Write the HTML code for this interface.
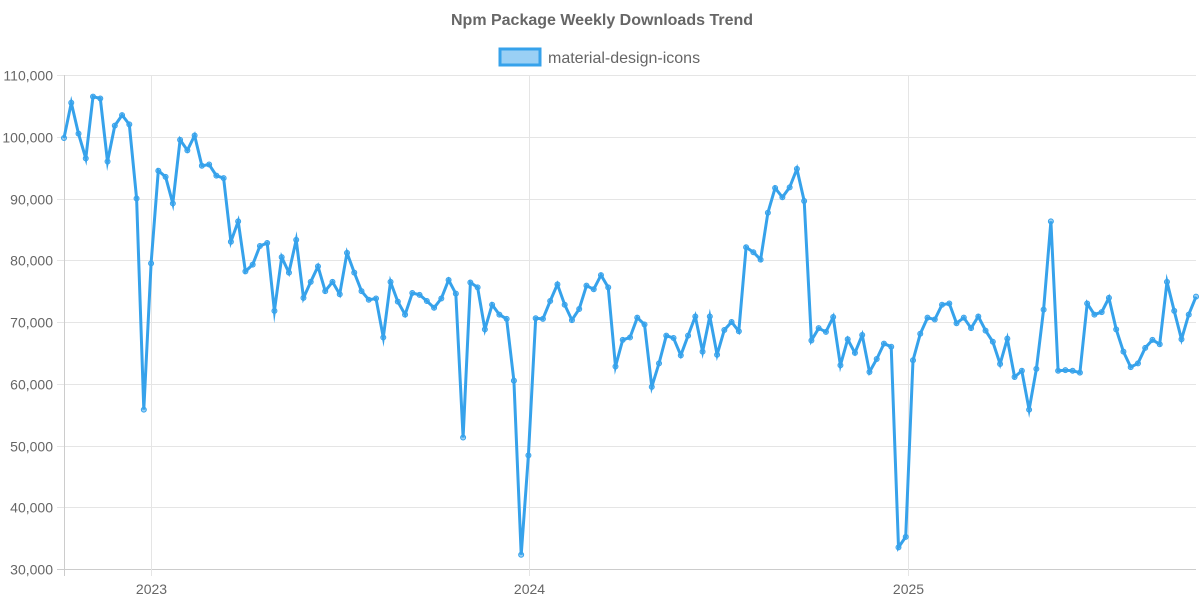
<!DOCTYPE html>
<html><head><meta charset="utf-8"><style>
html,body{margin:0;padding:0;background:#fff;width:1200px;height:600px;overflow:hidden}
svg{display:block;font-family:"Liberation Sans",Arial,sans-serif}
</style></head><body>
<svg id="c" width="1200" height="600" xmlns="http://www.w3.org/2000/svg">
<text x="602" y="25" text-anchor="middle" font-size="16" font-weight="bold" fill="#666">Npm Package Weekly Downloads Trend</text>
<rect x="500" y="49" width="40" height="16" fill="rgba(54,162,235,0.5)" stroke="#36a2eb" stroke-width="3"/>
<text x="548" y="63" font-size="16" fill="#666">material-design-icons</text>
<g id="grid"></g>
<g id="data"></g>
</svg>
<script>
var vals=[99800,105500,100500,96500,106500,106200,96000,101800,103500,102000,90000,55800,79500,94500,93500,89200,99500,97800,100200,95300,95500,93700,93300,83000,86300,78200,79300,82300,82800,71800,80500,78000,83300,73900,76500,79000,75000,76500,74500,81200,78000,75000,73600,73800,67500,76500,73300,71200,74700,74400,73400,72300,73800,76800,74600,51300,76400,75600,68800,72800,71200,70500,60500,32300,48400,70600,70500,73400,76100,72800,70300,72100,75900,75300,77600,75600,62800,67100,67500,70700,69600,59500,63300,67800,67400,64600,67800,70900,65200,70900,64700,68700,70000,68500,82100,81300,80100,87700,91700,90200,91800,94800,89600,67000,69000,68400,70800,63000,67200,65000,67900,61900,64000,66500,66000,33500,35200,63800,68100,70700,70400,72800,73000,69800,70700,69000,70900,68600,66800,63200,67300,61100,62100,55800,62400,72000,86300,62100,62200,62100,61800,73000,71200,71600,73900,68800,65200,62700,63300,65800,67100,66400,76500,71800,67200,71200,74100];
var NS="http://www.w3.org/2000/svg";
function el(t,a,p,txt){var e=document.createElementNS(NS,t);for(var k in a)e.setAttribute(k,a[k]);if(txt)e.textContent=txt;p.appendChild(e);return e;}
var g=document.getElementById('grid'),d=document.getElementById('data');
var x0=64,x1=1196,yT=75,yB=569;
function Y(v){return yB-(v-30000)/80000*(yB-yT);}
for(var v=30000;v<=110000;v+=10000){var y=Math.round(Y(v))+0.5;
el('line',{x1:57,x2:x1,y1:y,y2:y,stroke:v==30000?'#ccc':'#e5e5e5','stroke-width':1},g);
el('text',{x:53,y:y+5,'text-anchor':'end','font-size':14,fill:'#666'},g,v.toLocaleString('en-US'));}
[[64.5,''],[151.5,'2023'],[529.5,'2024'],[908.5,'2025']].forEach(function(a){
el('line',{x1:a[0],x2:a[0],y1:yT,y2:576,stroke:a[1]?'#e5e5e5':'#ccc','stroke-width':1},g);
if(a[1])el('text',{x:a[0],y:594,'text-anchor':'middle','font-size':14,fill:'#666'},g,a[1]);});
var n=vals.length,dx=(x1-x0)/(n-1),pts=[];
for(var i=0;i<n;i++)pts.push((x0+i*dx).toFixed(1)+','+Y(vals[i]).toFixed(1));
el('polyline',{points:pts.join(' '),fill:'none',stroke:'#36a2eb','stroke-width':3,'stroke-linejoin':'miter','stroke-miterlimit':10},d);
for(var i=0;i<n;i++)el('circle',{cx:x0+i*dx,cy:Y(vals[i]),r:2.5,fill:'rgba(54,162,235,0.5)',stroke:'#36a2eb','stroke-width':1},d);
</script>
</body></html>
